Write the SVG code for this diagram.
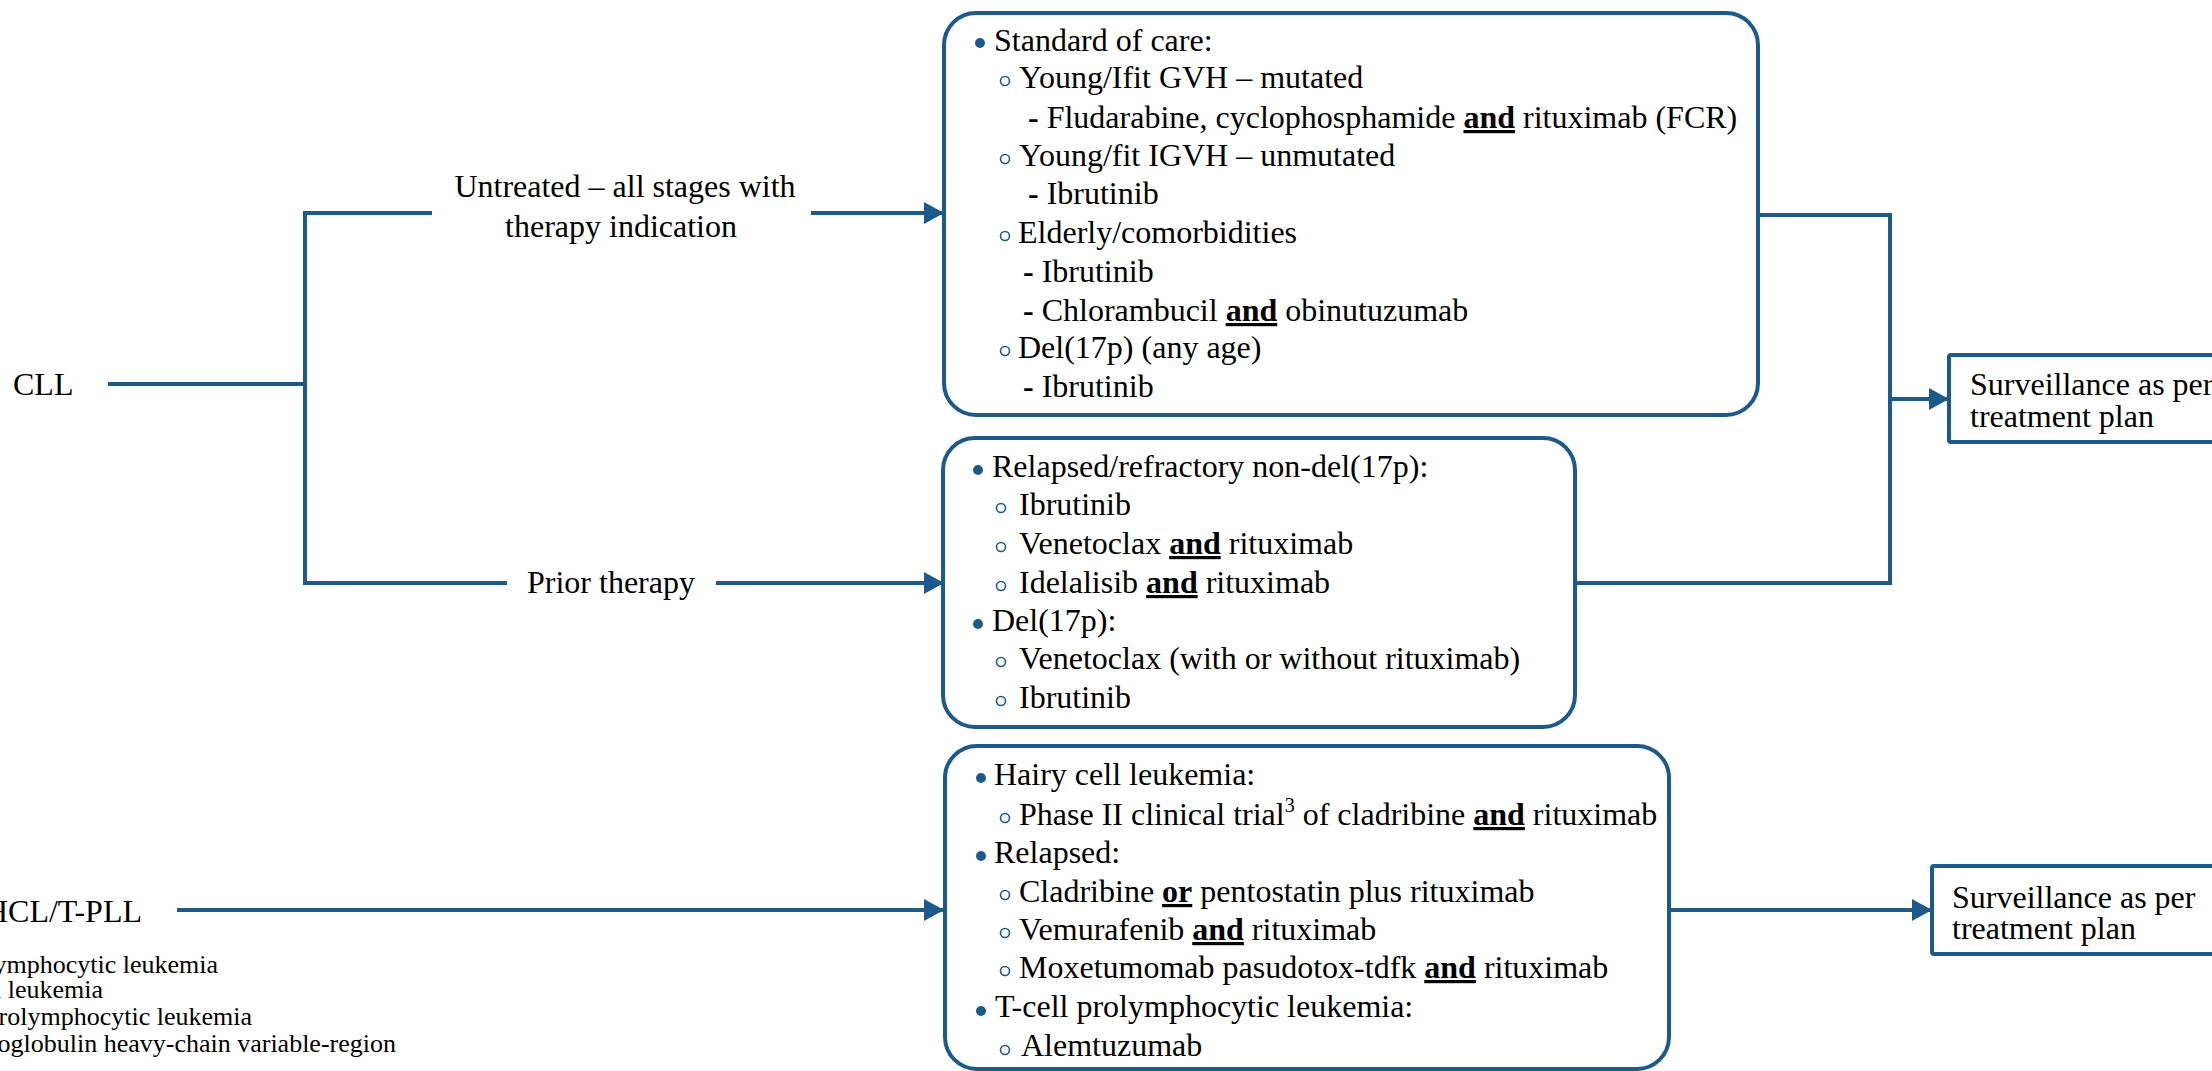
<svg xmlns="http://www.w3.org/2000/svg" width="2212" height="1071" viewBox="0 0 2212 1071">
<style>
  text { font-family: "Liberation Serif", "Times New Roman", serif; fill: #000; }
  .t { font-size: 32px; }
  .fn { font-size: 26px; }
  .b { font-weight: bold; text-decoration: underline; }
  .d { font-weight: bold; }
  .box { fill: #fff; stroke: #1c5a8c; stroke-width: 4; }
  .ln { fill: none; stroke: #1c5a8c; stroke-width: 4; }
  .fb { fill: #1c5a8c; }
  .hb { fill: none; stroke: #1c5a8c; stroke-width: 1.6; }
</style>
<defs>
  <marker id="ah" markerUnits="userSpaceOnUse" markerWidth="22" markerHeight="24" refX="20" refY="11" orient="auto">
    <path d="M0,0 L20,11 L0,22 Z" fill="#1c5a8c"/>
  </marker>
</defs>

<g id="connectors">
  <path class="ln" d="M108,384 H305"/>
  <path class="ln" d="M305,211 V585"/>
  <path class="ln" d="M303,213 H432"/>
  <path class="ln" d="M303,583 H507"/>
  <path class="ln" d="M811,213 H944" marker-end="url(#ah)"/>
  <path class="ln" d="M716,583 H944" marker-end="url(#ah)"/>
  <path class="ln" d="M1758,215 H1890 V583 H1575"/>
  <path class="ln" d="M1890,399 H1949" marker-end="url(#ah)"/>
  <path class="ln" d="M177,910 H944" marker-end="url(#ah)"/>
  <path class="ln" d="M1669,910 H1932" marker-end="url(#ah)"/>
</g>

<g id="cll">
  <text class="t" x="13" y="395">CLL</text>
</g>

<g id="hcl">
  <text class="t" x="142" y="922" text-anchor="end">HCL/T-PLL</text>
</g>

<g id="label-untreated">
  <text class="t" x="625" y="197" text-anchor="middle">Untreated – all stages with</text>
  <text class="t" x="621" y="237" text-anchor="middle">therapy indication</text>
</g>

<g id="label-prior">
  <text class="t" x="611" y="593" text-anchor="middle">Prior therapy</text>
</g>

<g id="box-untreated">
  <rect class="box" x="944" y="13" width="814" height="402" rx="32"/>
  <circle class="fb" cx="980" cy="43" r="5"/>
  <text class="t" x="994" y="51">Standard of care:</text>
  <circle class="hb" cx="1005" cy="81" r="4.5"/>
  <text class="t" x="1019" y="88">Young/Ifit GVH – mutated</text>
  <text class="t" x="1028" y="128"><tspan class="d">-</tspan> Fludarabine, cyclophosphamide <tspan class="b">and</tspan> rituximab (FCR)</text>
  <circle class="hb" cx="1005" cy="159" r="4.5"/>
  <text class="t" x="1019" y="166">Young/fit IGVH – unmutated</text>
  <text class="t" x="1028" y="204"><tspan class="d">-</tspan> Ibrutinib</text>
  <circle class="hb" cx="1005" cy="236" r="4.5"/>
  <text class="t" x="1018" y="243">Elderly/comorbidities</text>
  <text class="t" x="1023" y="282"><tspan class="d">-</tspan> Ibrutinib</text>
  <text class="t" x="1023" y="321"><tspan class="d">-</tspan> Chlorambucil <tspan class="b">and</tspan> obinutuzumab</text>
  <circle class="hb" cx="1005" cy="351" r="4.5"/>
  <text class="t" x="1018" y="358">Del(17p) (any age)</text>
  <text class="t" x="1023" y="397"><tspan class="d">-</tspan> Ibrutinib</text>
</g>

<g id="box-prior">
  <rect class="box" x="943" y="438" width="632" height="289" rx="32"/>
  <circle class="fb" cx="978" cy="470" r="5"/>
  <text class="t" x="992" y="477">Relapsed/refractory non-del(17p):</text>
  <circle class="hb" cx="1001" cy="508" r="4.5"/>
  <text class="t" x="1019" y="515">Ibrutinib</text>
  <circle class="hb" cx="1001" cy="547" r="4.5"/>
  <text class="t" x="1019" y="554">Venetoclax <tspan class="b">and</tspan> rituximab</text>
  <circle class="hb" cx="1001" cy="586" r="4.5"/>
  <text class="t" x="1019" y="593">Idelalisib <tspan class="b">and</tspan> rituximab</text>
  <circle class="fb" cx="978" cy="624" r="5"/>
  <text class="t" x="992" y="631">Del(17p):</text>
  <circle class="hb" cx="1001" cy="662" r="4.5"/>
  <text class="t" x="1019" y="669">Venetoclax (with or without rituximab)</text>
  <circle class="hb" cx="1001" cy="701" r="4.5"/>
  <text class="t" x="1019" y="708">Ibrutinib</text>
</g>

<g id="box-hcl">
  <rect class="box" x="945" y="746" width="724" height="323" rx="32"/>
  <circle class="fb" cx="981" cy="778" r="5"/>
  <text class="t" x="994" y="785">Hairy cell leukemia:</text>
  <circle class="hb" cx="1005" cy="818" r="4.5"/>
  <text class="t" x="1019" y="825">Phase II clinical trial<tspan font-size="20" dy="-13">3</tspan><tspan dy="13"> of cladribine </tspan><tspan class="b">and</tspan> rituximab</text>
  <circle class="fb" cx="981" cy="856" r="5"/>
  <text class="t" x="994" y="863">Relapsed:</text>
  <circle class="hb" cx="1005" cy="895" r="4.5"/>
  <text class="t" x="1019" y="902">Cladribine <tspan class="b">or</tspan> pentostatin plus rituximab</text>
  <circle class="hb" cx="1005" cy="933" r="4.5"/>
  <text class="t" x="1019" y="940">Vemurafenib <tspan class="b">and</tspan> rituximab</text>
  <circle class="hb" cx="1005" cy="971" r="4.5"/>
  <text class="t" x="1019" y="978">Moxetumomab pasudotox-tdfk <tspan class="b">and</tspan> rituximab</text>
  <circle class="fb" cx="981" cy="1011" r="5"/>
  <text class="t" x="995" y="1017">T-cell prolymphocytic leukemia:</text>
  <circle class="hb" cx="1005" cy="1050" r="4.5"/>
  <text class="t" x="1021" y="1056">Alemtuzumab</text>
</g>

<g id="surveillance-1">
  <rect class="box" x="1949" y="355" width="300" height="87" rx="2"/>
  <text class="t" x="1970" y="395">Surveillance as per</text>
  <text class="t" x="1970" y="427">treatment plan</text>
</g>

<g id="surveillance-2">
  <rect class="box" x="1932" y="866" width="320" height="88" rx="2"/>
  <text class="t" x="1952" y="908">Surveillance as per</text>
  <text class="t" x="1952" y="939">treatment plan</text>
</g>

<g id="footnotes">
  <text class="fn" x="218" y="973" text-anchor="end">CLL: chronic lymphocytic leukemia</text>
  <text class="fn" x="103" y="998" text-anchor="end">HCL: hairy cell leukemia</text>
  <text class="fn" x="252" y="1025" text-anchor="end">T-PLL: T-cell prolymphocytic leukemia</text>
  <text class="fn" x="396" y="1052" text-anchor="end">IGVH: immunoglobulin heavy-chain variable-region</text>
</g>
</svg>
